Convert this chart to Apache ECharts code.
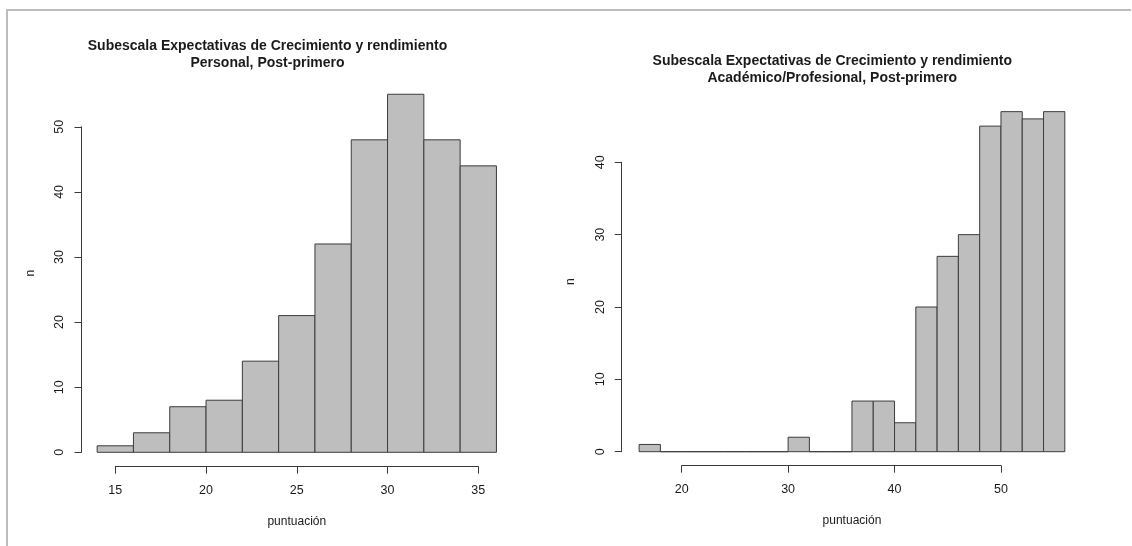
<!DOCTYPE html>
<html>
<head>
<meta charset="utf-8">
<script src="https://cdn.jsdelivr.net/npm/echarts@6/dist/echarts.min.js"></script>
<style>
  html, body { margin: 0; padding: 0; background: #ffffff; }
  #chart { width: 1132px; height: 546px; }
</style>
</head>
<body>
<div id="chart"></div>
<script>
// Histogram counts, bins of width 2
const binWidth = 2;

const personalTitle = 'Subescala Expectativas de Crecimiento y rendimiento\nPersonal, Post-primero';
const personalBinStart = 14;
const personalCounts = [1, 3, 7, 8, 14, 21, 32, 48, 55, 48, 44];
const personalXTicks = [15, 20, 25, 30, 35];
const personalYTicks = [0, 10, 20, 30, 40, 50];

const academicTitle = 'Subescala Expectativas de Crecimiento y rendimiento\nAcadémico/Profesional, Post-primero';
const academicBinStart = 16;
const academicCounts = [1, 0, 0, 0, 0, 0, 0, 2, 0, 0, 7, 7, 4, 20, 27, 30, 45, 47, 46, 47];
const academicXTicks = [20, 30, 40, 50];
const academicYTicks = [0, 10, 20, 30, 40];

const xName = 'puntuación';
const yName = 'n';

const FONT = '"Liberation Sans", Arial, Helvetica, sans-serif';
const INK = '#1a1a1a';
const AXIS = '#3a3a3a';

// Panel geometry: pixel origin of the first bin edge / zero count and pixels per unit
const panels = [
  {
    title: personalTitle, binStart: personalBinStart, counts: personalCounts,
    xTicks: personalXTicks, yTicks: personalYTicks,
    x0: 97.15, xu: 18.15, y0: 452.3, yu: 6.51,
    xAxisY: 466.7, yAxisX: 81.5,
    titleX: 267.5, titleTop: 37.5, nameGapY: 60, nameGapX: 63
  },
  {
    title: academicTitle, binStart: academicBinStart, counts: academicCounts,
    xTicks: academicXTicks, yTicks: academicYTicks,
    x0: 639.1, xu: 10.643, y0: 451.7, yu: 7.235,
    xAxisY: 465.7, yAxisX: 621.7,
    titleX: 832.3, titleTop: 52.5, nameGapY: 62, nameGapX: 63
  }
];

const grid = [], xAxis = [], yAxis = [], series = [], title = [];

panels.forEach((p, i) => {
  const nBins = p.counts.length;
  const binEnd = p.binStart + nBins * binWidth;
  const yMaxBar = Math.max(...p.counts);
  const xMin = p.xTicks[0], xMax = p.xTicks[p.xTicks.length - 1];
  const xStep = p.xTicks[1] - p.xTicks[0];
  const yMin = p.yTicks[0], yMax = p.yTicks[p.yTicks.length - 1];
  const yStep = p.yTicks[1] - p.yTicks[0];

  title.push({
    text: p.title,
    left: p.titleX,
    top: p.titleTop,
    padding: 0,
    textAlign: 'center',
    textStyle: { fontFamily: FONT, fontSize: 14, fontWeight: 'bold', color: INK, lineHeight: 17 }
  });

  const g = grid.length;
  // plotting area holding the bars
  grid.push({
    left: p.x0, top: p.y0 - yMaxBar * p.yu,
    width: nBins * binWidth * p.xu, height: yMaxBar * p.yu,
    outerBoundsMode: 'none', containLabel: false
  });
  // detached x axis below the plot
  grid.push({
    left: p.x0 + (xMin - p.binStart) * p.xu, top: p.xAxisY - 10,
    width: (xMax - xMin) * p.xu, height: 10,
    outerBoundsMode: 'none', containLabel: false
  });
  // detached y axis left of the plot
  grid.push({
    left: p.yAxisX, top: p.y0 - yMax * p.yu,
    width: 10, height: (yMax - yMin) * p.yu,
    outerBoundsMode: 'none', containLabel: false
  });

  const hidden = { show: false };
  const nameOnly = {
    axisLine: hidden, axisTick: hidden, axisLabel: hidden, splitLine: hidden
  };

  // bar grid axes: carry only the axis titles
  xAxis.push(Object.assign({
    type: 'value', gridIndex: g, min: p.binStart, max: binEnd,
    name: xName, nameLocation: 'middle', nameGap: p.nameGapX,
    nameTextStyle: { fontFamily: FONT, fontSize: 12, color: INK }
  }, nameOnly));
  yAxis.push(Object.assign({
    type: 'value', gridIndex: g, min: 0, max: yMaxBar,
    name: yName, nameLocation: 'middle', nameGap: p.nameGapY, nameRotate: 90,
    nameTextStyle: { fontFamily: FONT, fontSize: 12, color: INK }
  }, nameOnly));

  // visible x axis
  xAxis.push({
    type: 'value', gridIndex: g + 1, min: xMin, max: xMax, interval: xStep,
    position: 'bottom',
    axisLine: { show: true, lineStyle: { color: AXIS, width: 1 } },
    axisTick: { show: true, length: 7, lineStyle: { color: AXIS, width: 1 } },
    axisLabel: { show: true, margin: 17, fontFamily: FONT, fontSize: 12.5, color: INK,
                 showMinLabel: true, showMaxLabel: true },
    splitLine: hidden
  });
  yAxis.push({ type: 'value', gridIndex: g + 1, show: false, min: 0, max: 1 });

  // visible y axis
  xAxis.push({ type: 'value', gridIndex: g + 2, show: false, min: 0, max: 1 });
  yAxis.push({
    type: 'value', gridIndex: g + 2, min: yMin, max: yMax, interval: yStep,
    position: 'left',
    axisLine: { show: true, lineStyle: { color: AXIS, width: 1 } },
    axisTick: { show: true, length: 7, lineStyle: { color: AXIS, width: 1 } },
    axisLabel: { show: true, rotate: 90, margin: 15, fontFamily: FONT, fontSize: 12.5, color: INK,
                 showMinLabel: true, showMaxLabel: true },
    splitLine: hidden
  });

  const data = p.counts.map((c, k) => [p.binStart + k * binWidth, c]);
  series.push({
    type: 'custom',
    xAxisIndex: g, yAxisIndex: g,
    data: data,
    encode: { x: 0, y: 1 },
    clip: false,
    silent: true,
    renderItem: (params, api) => {
      const left = api.value(0);
      const n = api.value(1);
      const a = api.coord([left, n]);
      const b = api.coord([left + binWidth, 0]);
      return {
        type: 'rect',
        shape: { x: a[0], y: a[1], width: b[0] - a[0], height: b[1] - a[1] },
        style: { fill: '#bebebe', stroke: '#3c3c3c', lineWidth: 1 }
      };
    }
  });
});

const chart = echarts.init(document.getElementById('chart'), null, { renderer: 'canvas' });
chart.setOption({
  animation: false,
  backgroundColor: '#ffffff',
  title: title,
  grid: grid,
  xAxis: xAxis,
  yAxis: yAxis,
  series: series,
  graphic: [{
    type: 'polyline',
    shape: { points: [[7, 546], [7, 10], [1131, 10]] },
    style: { stroke: '#bdbdbd', lineWidth: 2, fill: null },
    silent: true
  }]
});
</script>
</body>
</html>
